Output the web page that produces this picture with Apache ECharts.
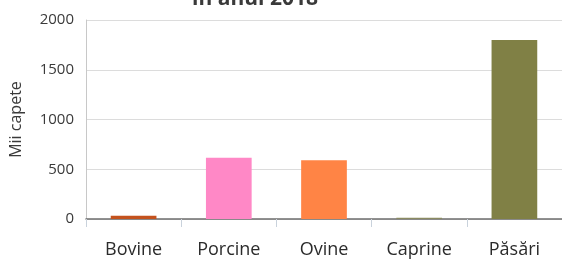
<!DOCTYPE html>
<html>
<head>
<meta charset="utf-8">
<script src="https://cdn.jsdelivr.net/npm/echarts@6/dist/echarts.min.js"></script>
<style>
  html, body { margin: 0; padding: 0; background: #fff; }
  #chart { width: 562px; height: 261px; }
</style>
</head>
<body>
<div id="chart"></div>
<script>
  // efective de animale, mii capete
  const categories = ['Bovine', 'Porcine', 'Ovine', 'Caprine', 'Păsări'];
  const values = [32, 615, 590, 12, 1800];
  const barColors = ['#c4521d', '#ff88c6', '#ff8445', '#8a8a62', '#808045'];
  const yTicks = [0, 500, 1000, 1500, 2000];

  const font = '"Open Sans", "Noto Sans", sans-serif';

  var myChart = echarts.init(document.getElementById('chart'));
  const option = {
    animation: false,
    title: {
      text: 'în anul 2018',
      left: 250,
      textAlign: 'center',
      top: -16,
      textStyle: { fontFamily: font, fontSize: 21, fontWeight: 'bold', color: '#3a3a3a' }
    },
    grid: { left: 85, right: -3, top: 20, bottom: 42 },
    xAxis: {
      type: 'category',
      data: categories,
      axisLine: { lineStyle: { color: '#6e6e6e', width: 1.5 } },
      axisTick: { show: true, length: 8, lineStyle: { color: '#c9d2dc' } },
      axisLabel: { fontFamily: font, fontSize: 18, color: '#2b2b2b', margin: 22 }
    },
    yAxis: {
      type: 'value',
      min: yTicks[0],
      max: yTicks[yTicks.length - 1],
      interval: 500,
      name: 'Mii capete',
      nameLocation: 'middle',
      nameGap: 62,
      nameTextStyle: { fontFamily: font, fontSize: 16, color: '#3a3a3a' },
      axisLine: { show: true, lineStyle: { color: '#c8c8c8' } },
      axisTick: { show: false },
      splitLine: { lineStyle: { color: '#dcdcdc' } },
      axisLabel: { fontFamily: font, fontSize: 15, color: '#3a3a3a', margin: 12, formatter: v => String(v) }
    },
    series: [{
      type: 'bar',
      barWidth: '48%',
      data: values.map((v, i) => ({ value: v, itemStyle: { color: barColors[i] } }))
    }]
  };
  myChart.setOption(option);
</script>
</body>
</html>
